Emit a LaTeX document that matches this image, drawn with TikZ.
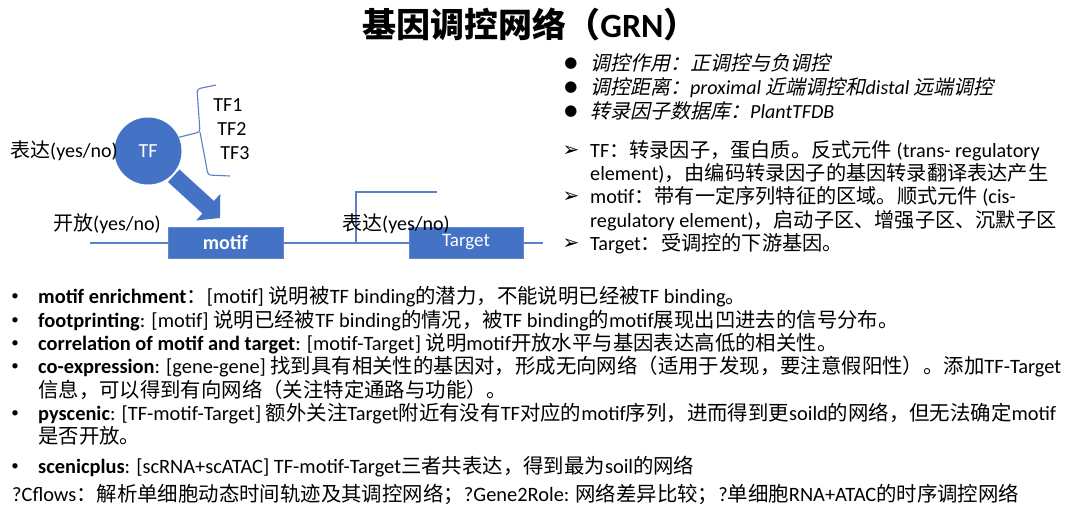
\documentclass[tikz,border=0pt]{standalone}
\usepackage{fontspec}
\setmainfont{Carlito}
\newfontfamily\latfam{Carlito}
\newfontfamily\cjkfam{Noto Sans CJK SC}[ItalicFont={Noto Sans CJK SC},ItalicFeatures={FakeSlant=0.22}]
\newfontfamily\symfam{DejaVu Sans}
\usetikzlibrary{arrows.meta}
\definecolor{gblue}{HTML}{4472C4}
\definecolor{lblue}{HTML}{5B7FC8}
% automatic switch between Latin and CJK fonts
\newXeTeXintercharclass\CJKcls
\newcount\cjkc
\def\setcjkrange#1#2{\cjkc=#1\relax\loop\XeTeXcharclass\cjkc=\CJKcls\relax\ifnum\cjkc<#2\relax\advance\cjkc by 1\relax\repeat}
\setcjkrange{"3000}{"303F}
\setcjkrange{"4E00}{"9FFF}
\setcjkrange{"FF00}{"FFEF}
\XeTeXinterchartoks 0 \CJKcls = {\cjkfam}
\XeTeXinterchartoks 4095 \CJKcls = {\cjkfam}
\XeTeXinterchartoks \CJKcls 0 = {\latfam}
\XeTeXinterchartoks \CJKcls 4095 = {\latfam}
\XeTeXinterchartokenstate=1
\tikzset{
  txt/.style={inner sep=0pt, anchor=west, text height=16.5pt, text depth=3.5pt,
    font=\fontsize{20}{24}\selectfont},
  btxt/.style={txt, font=\fontsize{20.4}{24}\selectfont},
  rtxt/.style={txt, font=\fontsize{20.2}{24}\selectfont},
  ctxt/.style={txt, anchor=center},
  itxt/.style={txt, font=\fontsize{20}{24}\selectfont\itshape},
  sym/.style={inner sep=0pt, anchor=center, font=\symfam\fontsize{15}{18}\selectfont},
  arrsym/.style={inner sep=0pt, anchor=center, font=\symfam\fontsize{20}{24}\selectfont},
  dot/.style={inner sep=0pt, anchor=center, font=\fontsize{15}{18}\selectfont},
  blbox/.style={fill=gblue, draw=gblue!85!white, line width=0.6pt, inner sep=0pt,
    minimum width=115pt, minimum height=31pt, text=white},
  dna/.style={draw=lblue, line width=1.1pt},
  bracel/.style={draw=lblue, line width=1.1pt, rounded corners=3pt},
  bigarrow/.style={draw=gblue, line width=17pt, shorten <=2pt,
    -{Triangle[length=16pt,width=35pt]}},
}
\begin{document}
\begin{tikzpicture}[x=1pt,y=-1pt]
\useasboundingbox (0,0) rectangle (1080,520);
\fill[white] (0,0) rectangle (1080,520);
% title
\node[inner sep=0pt, font=\fontsize{34}{40}\selectfont\bfseries] (title) at (530,24) {基因调控网络（GRN）};
% ---------- diagram ----------
\coordinate (dnaL) at (90,243);
\coordinate (dnaR) at (543,243);
\draw[dna] (dnaL) -- (dnaR);
\coordinate (prom) at (356,243);
\coordinate (promEnd) at (437,192);
\draw[dna] (prom) |- (promEnd);
\node[blbox, font=\fontsize{20}{24}\selectfont\bfseries] (motif) at (225.5,242.5) {motif};
\node[blbox, minimum width=114pt, font=\fontsize{19}{24}\selectfont] (target) at (466,242.5) {Target};
\node[circle, fill=gblue, minimum size=67pt, inner sep=0pt, text=white,
  font=\fontsize{20}{24}\selectfont] (TF) at (148,151) {TF};
\coordinate (arrtip) at (220,218);
\draw[bigarrow] (TF.-44) -- (arrtip);
% brace
\coordinate (brTop) at (216,85);
\coordinate (brA) at (197,89);
\coordinate (brMid) at (200,132);
\coordinate (brB) at (208,175);
\coordinate (brBot) at (230,176);
\draw[bracel] (brTop) -- (brA) -- (brMid) -- (TF.24);
\draw[bracel] (brMid) -- (brB) -- (brBot);
\node[ctxt] (tf1) at (228,105) {TF1};
\node[ctxt] (tf2) at (232,129) {TF2};
\node[ctxt] (tf3) at (235,153) {TF3};
\node[txt] (exprTF) at (10,151) {表达(yes/no)};
\node[txt] (open) at (53,224) {开放(yes/no)};
\node[txt] (exprT) at (342,224) {表达(yes/no)};
% ---------- right list ----------
\node[sym] (b1) at (571,64) {●};
\node[sym] (b2) at (571,88) {●};
\node[sym] (b3) at (571,112) {●};
\node[itxt] (r1) at (590,64) {调控作用：正调控与负调控};
\node[itxt] (r2) at (590,88) {调控距离：proximal 近端调控和distal 远端调控};
\node[itxt] (r3) at (590,112) {转录因子数据库：PlantTFDB};
\node[arrsym] (a1) at (571,151) {➢};
\node[arrsym] (a2) at (571,197) {➢};
\node[arrsym] (a3) at (571,244) {➢};
\node[rtxt] (s1) at (590,151) {TF：转录因子，蛋白质。反式元件 (trans- regulatory};
\node[rtxt] (s1b) at (590,174) {element)，由编码转录因子的基因转录翻译表达产生};
\node[rtxt] (s2) at (590,197) {motif：带有一定序列特征的区域。顺式元件 (cis-};
\node[rtxt] (s2b) at (590,221) {regulatory element)，启动子区、增强子区、沉默子区};
\node[rtxt] (s3) at (590,244) {Target：受调控的下游基因。};
% ---------- bottom list ----------
\node[dot] (d1) at (15,297) {•};
\node[dot] (d2) at (15,321) {•};
\node[dot] (d3) at (15,344) {•};
\node[dot] (d4) at (15,367) {•};
\node[dot] (d5) at (15,414) {•};
\node[dot] (d6) at (15,467) {•};
\node[btxt] (l1) at (38,297) {\textbf{motif enrichment}：[motif] 说明被TF binding的潜力，不能说明已经被TF binding。};
\node[btxt] (l2) at (38,321) {\textbf{footprinting}: [motif] 说明已经被TF binding的情况，被TF binding的motif展现出凹进去的信号分布。};
\node[btxt] (l3) at (38,344) {\textbf{correlation of motif and target}: [motif-Target] 说明motif开放水平与基因表达高低的相关性。};
\node[btxt] (l4) at (38,367) {\textbf{co-expression}: [gene-gene] 找到具有相关性的基因对，形成无向网络（适用于发现，要注意假阳性）。添加TF-Target};
\node[btxt] (l4b) at (38,391) {信息，可以得到有向网络（关注特定通路与功能）。};
\node[btxt] (l5) at (38,414) {\textbf{pyscenic}: [TF-motif-Target] 额外关注Target附近有没有TF对应的motif序列，进而得到更soild的网络，但无法确定motif};
\node[btxt] (l5b) at (38,437) {是否开放。};
\node[btxt] (l6) at (38,467) {\textbf{scenicplus}: [scRNA+scATAC] TF-motif-Target三者共表达，得到最为soil的网络};
\node[btxt] (l7) at (12,495) {?Cflows：解析单细胞动态时间轨迹及其调控网络；?Gene2Role: 网络差异比较；?单细胞RNA+ATAC的时序调控网络};
\end{tikzpicture}
\end{document}
